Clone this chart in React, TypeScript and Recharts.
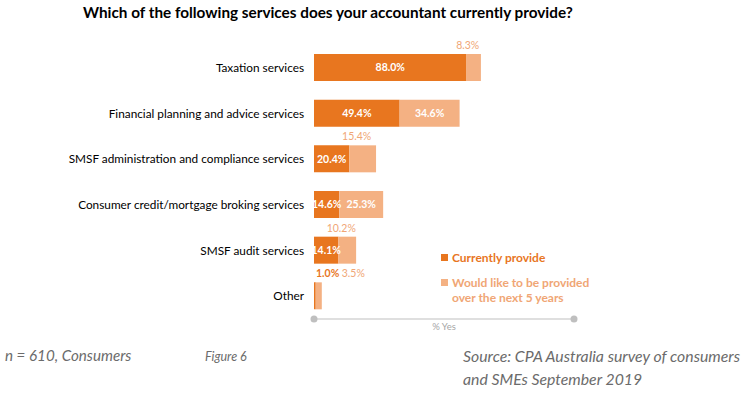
import React from 'react';
import { BarChart, Bar, XAxis, YAxis, LabelList, Legend } from 'recharts';

const categories = [
  'Taxation services',
  'Financial planning and advice services',
  'SMSF administration and compliance services',
  'Consumer credit/mortgage broking services',
  'SMSF audit services',
  'Other',
];
const currentlyProvide = [88.0, 49.4, 20.4, 14.6, 14.1, 1.0];
const wouldLike = [8.3, 34.6, 15.4, 25.3, 10.2, 3.5];
const seriesNames = ['Currently provide', 'Would like to be provided over the next 5 years'];
const axisTicks = [0, 150];

const FONT = 'Lato, "Open Sans", sans-serif';
const DARK = '#E8761F';
const LIGHT = '#F4B183';
const LIGHT_TEXT = '#F0A675';
const GREY = '#6b6b6b';

const data = categories.map((c, i) => ({ category: c, current: currentlyProvide[i], future: wouldLike[i] }));
const fmt = (v: number) => v.toFixed(1) + '%';

const CurrentLabel = (props: any) => {
  const { x, y, width, height, value } = props;
  if (value < 5) {
    return (
      <text x={x + 2} y={y - 5} textAnchor="start" fill={DARK} fontWeight={700} fontSize={10.5} fontFamily={FONT}>
        {fmt(value)}
      </text>
    );
  }
  return (
    <text x={x + width / 2} y={y + height / 2} dy="0.35em" textAnchor="middle" fill="#fff" fontWeight={700} fontSize={10.5} fontFamily={FONT}>
      {fmt(value)}
    </text>
  );
};

const FutureLabel = (props: any) => {
  const { x, y, width, height, value, index } = props;
  if (value >= 20) {
    return (
      <text x={x + width / 2} y={y + height / 2} dy="0.35em" textAnchor="middle" fill="#fff" fontWeight={700} fontSize={10.5} fontFamily={FONT}>
        {fmt(value)}
      </text>
    );
  }
  if (currentlyProvide[index] < 5) {
    return (
      <text x={x + 26} y={y - 5} textAnchor="start" fill={LIGHT_TEXT} fontSize={10.5} fontFamily={FONT}>
        {fmt(value)}
      </text>
    );
  }
  return (
    <text x={x + width / 2 - 6} y={y - 5} textAnchor="middle" fill={LIGHT_TEXT} fontSize={10.5} fontFamily={FONT}>
      {fmt(value)}
    </text>
  );
};

const CategoryTick = (props: any) => {
  const { x, y, payload } = props;
  return (
    <text x={x - 2} y={y} dy="0.35em" textAnchor="end" fill="#000" fontSize={11.8} fontFamily={FONT}>
      {payload.value}
    </text>
  );
};

const DotTick = (props: any) => {
  const { x, y } = props;
  return <circle cx={x} cy={y} r={3.5} fill="#BFBFBF" />;
};

const LegendContent = () => (
  <div style={{ fontFamily: FONT, fontSize: 12, fontWeight: 700, lineHeight: '15px' }}>
    <div style={{ display: 'flex', alignItems: 'center', color: DARK }}>
      <span style={{ width: 7, height: 7, background: DARK, marginRight: 4, display: 'inline-block' }} />
      {seriesNames[0]}
    </div>
    <div style={{ display: 'flex', alignItems: 'flex-start', color: LIGHT_TEXT, marginTop: 10 }}>
      <span style={{ width: 7, height: 7, background: LIGHT, marginRight: 4, marginTop: 4, display: 'inline-block', flexShrink: 0 }} />
      <span style={{ width: 150 }}>{seriesNames[1]}</span>
    </div>
  </div>
);

export default function App() {
  return (
    <div style={{ position: 'absolute', left: 0, top: 0, width: 751, height: 394, background: '#fff', overflow: 'hidden' }}>
      <div style={{ position: 'absolute', left: 83, top: 3, fontFamily: FONT, fontWeight: 700, fontSize: 15.3, color: '#000', whiteSpace: 'nowrap' }}>
        Which of the following services does your accountant currently provide?
      </div>
      <BarChart
        width={751}
        height={394}
        layout="vertical"
        data={data}
        margin={{ top: 45, right: 177, bottom: 45, left: 0 }}
        barSize={27}
      >
        <XAxis
          type="number"
          domain={[0, 150]}
          ticks={axisTicks}
          tick={<DotTick />}
          tickLine={false}
          tickSize={0}
          tickMargin={0}
          axisLine={{ stroke: '#BFBFBF', strokeWidth: 1 }}
          height={30}
          label={(p: any) => {
            const vb = p.viewBox;
            return (
              <text x={vb.x + vb.width / 2} y={vb.y + 11} textAnchor="middle" fill="#A6A6A6" fontSize={9.5} fontFamily={FONT}>
                % Yes
              </text>
            );
          }}
        />
        <YAxis type="category" dataKey="category" width={314} tick={<CategoryTick />} tickLine={false} axisLine={false} />
        <Legend
          layout="vertical"
          align="center"
          verticalAlign="middle"
          content={<LegendContent />}
          wrapperStyle={{ left: 441, top: 250, width: 175 }}
        />
        <Bar dataKey="current" name={seriesNames[0]} stackId="a" fill={DARK} isAnimationActive={false}>
          <LabelList dataKey="current" content={<CurrentLabel />} />
        </Bar>
        <Bar dataKey="future" name={seriesNames[1]} stackId="a" fill={LIGHT} isAnimationActive={false}>
          <LabelList dataKey="future" content={<FutureLabel />} />
        </Bar>
      </BarChart>
      <div style={{ position: 'absolute', left: 5, top: 346, fontFamily: FONT, fontStyle: 'italic', fontSize: 15.2, color: GREY }}>
        n = 610, Consumers
      </div>
      <div style={{ position: 'absolute', left: 205, top: 349, fontFamily: FONT, fontStyle: 'italic', fontSize: 12.5, color: GREY }}>
        Figure 6
      </div>
      <div style={{ position: 'absolute', left: 463, top: 344, fontFamily: FONT, fontStyle: 'italic', fontSize: 15.8, color: GREY, lineHeight: '23px' }}>
        Source: CPA Australia survey of consumers
        <br />
        and SMEs September 2019
      </div>
    </div>
  );
}
